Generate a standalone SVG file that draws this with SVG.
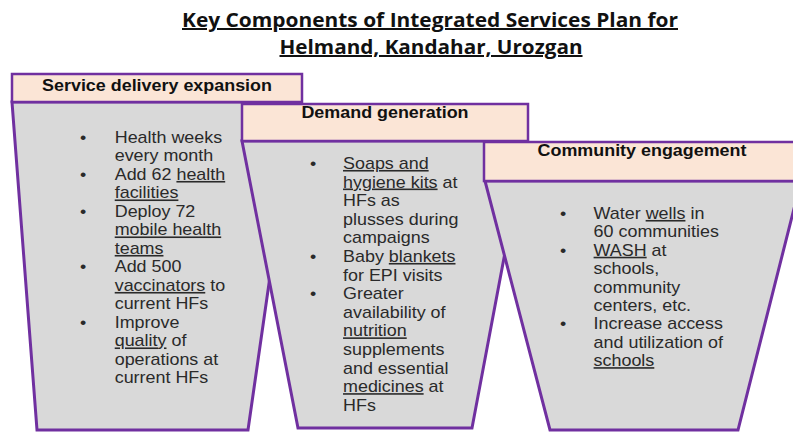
<svg xmlns="http://www.w3.org/2000/svg" width="793" height="432" viewBox="0 0 793 432">
<style>
.trap{fill:#D9D9D9;stroke:#7030A0;stroke-width:3;stroke-linejoin:miter}
.hdr{fill:#FBE5D6;stroke:#7030A0;stroke-width:2.5}
.ht{font-family:"Liberation Sans",Arial,sans-serif;font-weight:bold;font-size:16px;fill:#111;text-anchor:middle}
.bt{font-family:"Liberation Sans",Arial,sans-serif;font-size:16px;fill:#2a2a2a}
.u{text-decoration:underline}
.title{font-family:"Open Sans","Liberation Sans",sans-serif;font-weight:bold;font-size:20px;fill:#111;text-anchor:middle;text-decoration:underline}
</style>
<rect width="793" height="432" fill="#fff"/>
<g id="title">
<text class="title" x="430" y="27" textLength="496" lengthAdjust="spacingAndGlyphs">Key Components of Integrated Services Plan for</text>
<text class="title" x="431" y="54" textLength="303" lengthAdjust="spacingAndGlyphs">Helmand, Kandahar, Urozgan</text>
</g>
<g id="node-service">
<polygon class="trap" points="12,102 295,102 248,430 37,430"/>
<rect class="hdr" x="12" y="74" width="290" height="28"/>
<g transform="translate(157,91) scale(1.12,1)"><text class="ht" x="0" y="0">Service delivery expansion</text></g>
<g transform="translate(80,143) scale(1.12,1)" class="bt">
<text x="0" y="0">•</text><text x="31" y="0">Health weeks</text>
<text x="31" y="18.5">every month</text>
<text x="0" y="37">•</text><text x="31" y="37">Add 62 <tspan class="u">health</tspan></text>
<text x="31" y="55.5"><tspan class="u">facilities</tspan></text>
<text x="0" y="74">•</text><text x="31" y="74">Deploy 72</text>
<text x="31" y="92.5"><tspan class="u">mobile health</tspan></text>
<text x="31" y="111"><tspan class="u">teams</tspan></text>
<text x="0" y="129.5">•</text><text x="31" y="129.5">Add 500</text>
<text x="31" y="148"><tspan class="u">vaccinators</tspan> to</text>
<text x="31" y="166.5">current HFs</text>
<text x="0" y="185">•</text><text x="31" y="185">Improve</text>
<text x="31" y="203.5"><tspan class="u">quality</tspan> of</text>
<text x="31" y="222">operations at</text>
<text x="31" y="240.5">current HFs</text>
</g>
</g>
<g id="node-demand">
<polygon class="trap" points="242,141 526,141 472,428 298,428"/>
<rect class="hdr" x="242" y="104" width="286" height="37"/>
<g transform="translate(385,118) scale(1.12,1)"><text class="ht" x="0" y="0">Demand generation</text></g>
<g transform="translate(310,169) scale(1.12,1)" class="bt">
<text x="0" y="0">•</text><text x="29.5" y="0"><tspan class="u">Soaps and</tspan></text>
<text x="29.5" y="18.6"><tspan class="u">hygiene kits</tspan> at</text>
<text x="29.5" y="37.2">HFs as</text>
<text x="29.5" y="55.8">plusses during</text>
<text x="29.5" y="74.4">campaigns</text>
<text x="0" y="93">•</text><text x="29.5" y="93">Baby <tspan class="u">blankets</tspan></text>
<text x="29.5" y="111.6">for EPI visits</text>
<text x="0" y="130.2">•</text><text x="29.5" y="130.2">Greater</text>
<text x="29.5" y="148.8">availability of</text>
<text x="29.5" y="167.4"><tspan class="u">nutrition</tspan></text>
<text x="29.5" y="186">supplements</text>
<text x="29.5" y="204.6">and essential</text>
<text x="29.5" y="223.2"><tspan class="u">medicines</tspan> at</text>
<text x="29.5" y="241.8">HFs</text>
</g>
</g>
<g id="node-community">
<polygon class="trap" points="485,181 801,181 738,430 550,430"/>
<rect class="hdr" x="484" y="142" width="317" height="39"/>
<g transform="translate(642,156) scale(1.12,1)"><text class="ht" x="0" y="0">Community  engagement</text></g>
<g transform="translate(560,219) scale(1.12,1)" class="bt">
<text x="0" y="0">•</text><text x="30" y="0">Water <tspan class="u">wells</tspan> in</text>
<text x="30" y="18.4">60 communities</text>
<text x="0" y="36.8">•</text><text x="30" y="36.8"><tspan class="u">WASH</tspan> at</text>
<text x="30" y="55.2">schools,</text>
<text x="30" y="73.6">community</text>
<text x="30" y="92">centers, etc.</text>
<text x="0" y="110.4">•</text><text x="30" y="110.4">Increase access</text>
<text x="30" y="128.8">and utilization of</text>
<text x="30" y="147.2"><tspan class="u">schools</tspan></text>
</g>
</g>
<g id="connectors"/>
</svg>
